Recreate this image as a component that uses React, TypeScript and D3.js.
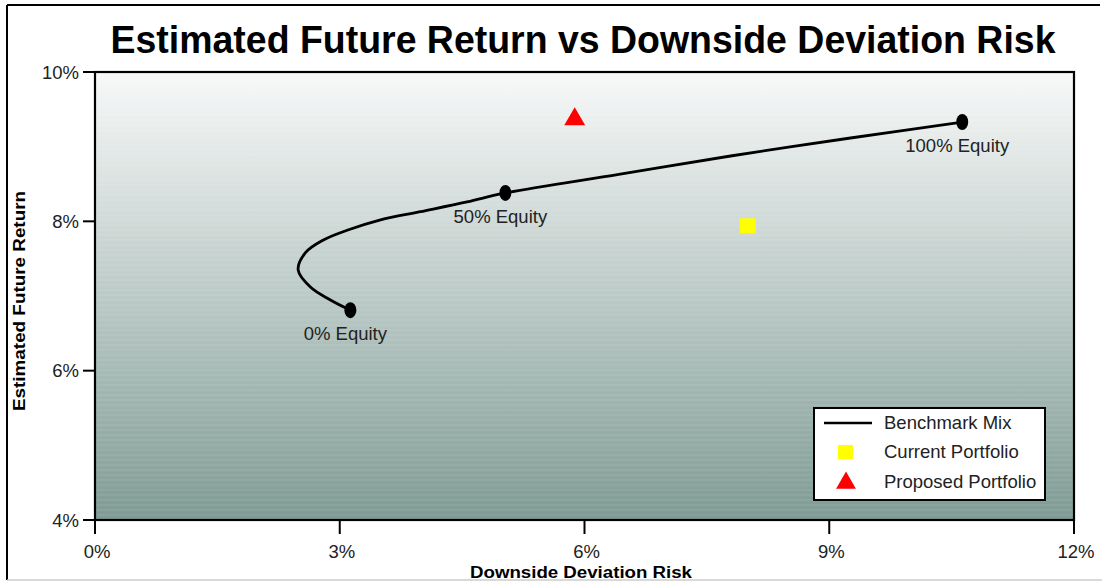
import React from "react";
import * as d3 from "d3";

const benchmarkRisk = [3.13, 2.88, 2.64, 2.49, 2.58, 2.8, 3.09, 3.5, 3.99, 4.56, 5.03, 6.42, 7.79, 9.26, 10.63];
const benchmarkReturn = [6.81, 6.95, 7.12, 7.35, 7.58, 7.75, 7.88, 8.02, 8.13, 8.26, 8.38, 8.63, 8.875, 9.116, 9.33];

const mixLabels = ["0% Equity", "50% Equity", "100% Equity"];
const mixRisk = [3.13, 5.03, 10.63];
const mixReturn = [6.81, 8.38, 9.33];

const currentRisk = [8.0];
const currentReturn = [7.94];
const proposedRisk = [5.88];
const proposedReturn = [9.38];

const xTicks = [0, 3, 6, 9, 12];
const yTicks = [4, 6, 8, 10];

const W = 1102;
const H = 582;
const PL = 95, PR = 1074, PT = 72, PB = 520;

export default function App() {
  const x = d3.scaleLinear().domain([0, 12]).range([PL, PR]);
  const y = d3.scaleLinear().domain([4, 10]).range([PB, PT]);
  const pts: [number, number][] = benchmarkRisk.map((r, i) => [r, benchmarkReturn[i]]);
  const line = d3
    .line<[number, number]>()
    .x((d) => x(d[0]))
    .y((d) => y(d[1]))
    .curve(d3.curveCatmullRom.alpha(0.5));
  const stripes = d3.range(PT + 3, PB, 5);
  const font = "'Liberation Sans', Arial, Helvetica, sans-serif";
  const tri = d3.symbol().type(d3.symbolTriangle).size(190)();
  const triLegend = d3.symbol().type(d3.symbolTriangle).size(170)();

  return (
    <svg width={W} height={H} style={{ position: "absolute", left: 0, top: 0, background: "#fff" }} fontFamily={font}>
      <defs>
        <linearGradient id="bg" x1="0" y1="0" x2="0" y2="1">
          <stop offset="0%" stopColor="#f8f9f9" />
          <stop offset="100%" stopColor="#7f9b94" />
        </linearGradient>
      </defs>
      {/* outer frame */}
      <line x1={7} y1={5} x2={1100} y2={5} stroke="#000" strokeWidth={2} />
      <line x1={7} y1={5} x2={7} y2={580} stroke="#000" strokeWidth={2} />
      <line x1={7} y1={580} x2={1102} y2={580} stroke="#ccc" strokeWidth={1.5} />

      <text x={583} y={53} textAnchor="middle" fontSize={38} fontWeight="bold" textLength={945} lengthAdjust="spacingAndGlyphs" fill="#000">
        Estimated Future Return vs Downside Deviation Risk
      </text>

      {/* plot background */}
      <rect x={PL} y={PT} width={PR - PL} height={PB - PT} fill="url(#bg)" />
      {stripes.map((s) => (
        <line key={s} x1={PL} x2={PR} y1={s} y2={s} stroke="#ffffff" strokeOpacity={0.13} strokeWidth={1} />
      ))}
      <rect x={PL} y={PT} width={PR - PL} height={PB - PT} fill="none" stroke="#000" strokeWidth={2.2} />

      {/* y axis */}
      {yTicks.map((t) => (
        <g key={t}>
          <line x1={PL - 12} x2={PL} y1={y(t)} y2={y(t)} stroke="#000" strokeWidth={2} />
          <text x={PL - 16} y={y(t) + 6.5} textAnchor="end" fontSize={18.5} fill="#222">
            {t}%
          </text>
        </g>
      ))}
      {/* x axis */}
      {xTicks.map((t) => (
        <g key={t}>
          <line x1={x(t)} x2={x(t)} y1={PB} y2={PB + 14} stroke="#000" strokeWidth={2} />
          <text x={x(t) + 2} y={558} textAnchor="middle" fontSize={18.5} fill="#222">
            {t}%
          </text>
        </g>
      ))}
      <text x={581} y={578} textAnchor="middle" fontSize={16} fontWeight="bold" textLength={222} lengthAdjust="spacingAndGlyphs">
        Downside Deviation Risk
      </text>
      <text transform={`translate(25,301) rotate(-90)`} textAnchor="middle" fontSize={16} fontWeight="bold" textLength={220} lengthAdjust="spacingAndGlyphs">
        Estimated Future Return
      </text>

      {/* benchmark curve */}
      <path d={line(pts) || ""} fill="none" stroke="#000" strokeWidth={2.8} />
      {mixLabels.map((l, i) => (
        <g key={l}>
          <ellipse cx={x(mixRisk[i])} cy={y(mixReturn[i])} rx={6} ry={8} fill="#000" />
          <text x={x(mixRisk[i]) - 5} y={y(mixReturn[i]) + 30} textAnchor="middle" fontSize={18.5} fill="#222">
            {l}
          </text>
        </g>
      ))}

      {/* current portfolio */}
      {currentRisk.map((r, i) => (
        <rect key={i} x={x(r) - 8} y={y(currentReturn[i]) - 7.5} width={16} height={15} fill="#ffff00" />
      ))}
      {/* proposed portfolio */}
      {proposedRisk.map((r, i) => (
        <path key={i} d={tri || ""} transform={`translate(${x(r)},${y(proposedReturn[i]) + 1})`} fill="#ff0000" />
      ))}

      {/* legend */}
      <rect x={814} y={408} width={231} height={92} fill="#fff" stroke="#000" strokeWidth={2} />
      <line x1={824} x2={872} y1={423} y2={423} stroke="#000" strokeWidth={2.5} />
      <text x={884} y={429} fontSize={18.5} fill="#222">Benchmark Mix</text>
      <rect x={838} y={445} width={15} height={14} fill="#ffff00" />
      <text x={884} y={458} fontSize={18.5} fill="#222">Current Portfolio</text>
      <path d={triLegend || ""} transform="translate(846,483)" fill="#ff0000" />
      <text x={884} y={488} fontSize={18.5} fill="#222">Proposed Portfolio</text>
    </svg>
  );
}
